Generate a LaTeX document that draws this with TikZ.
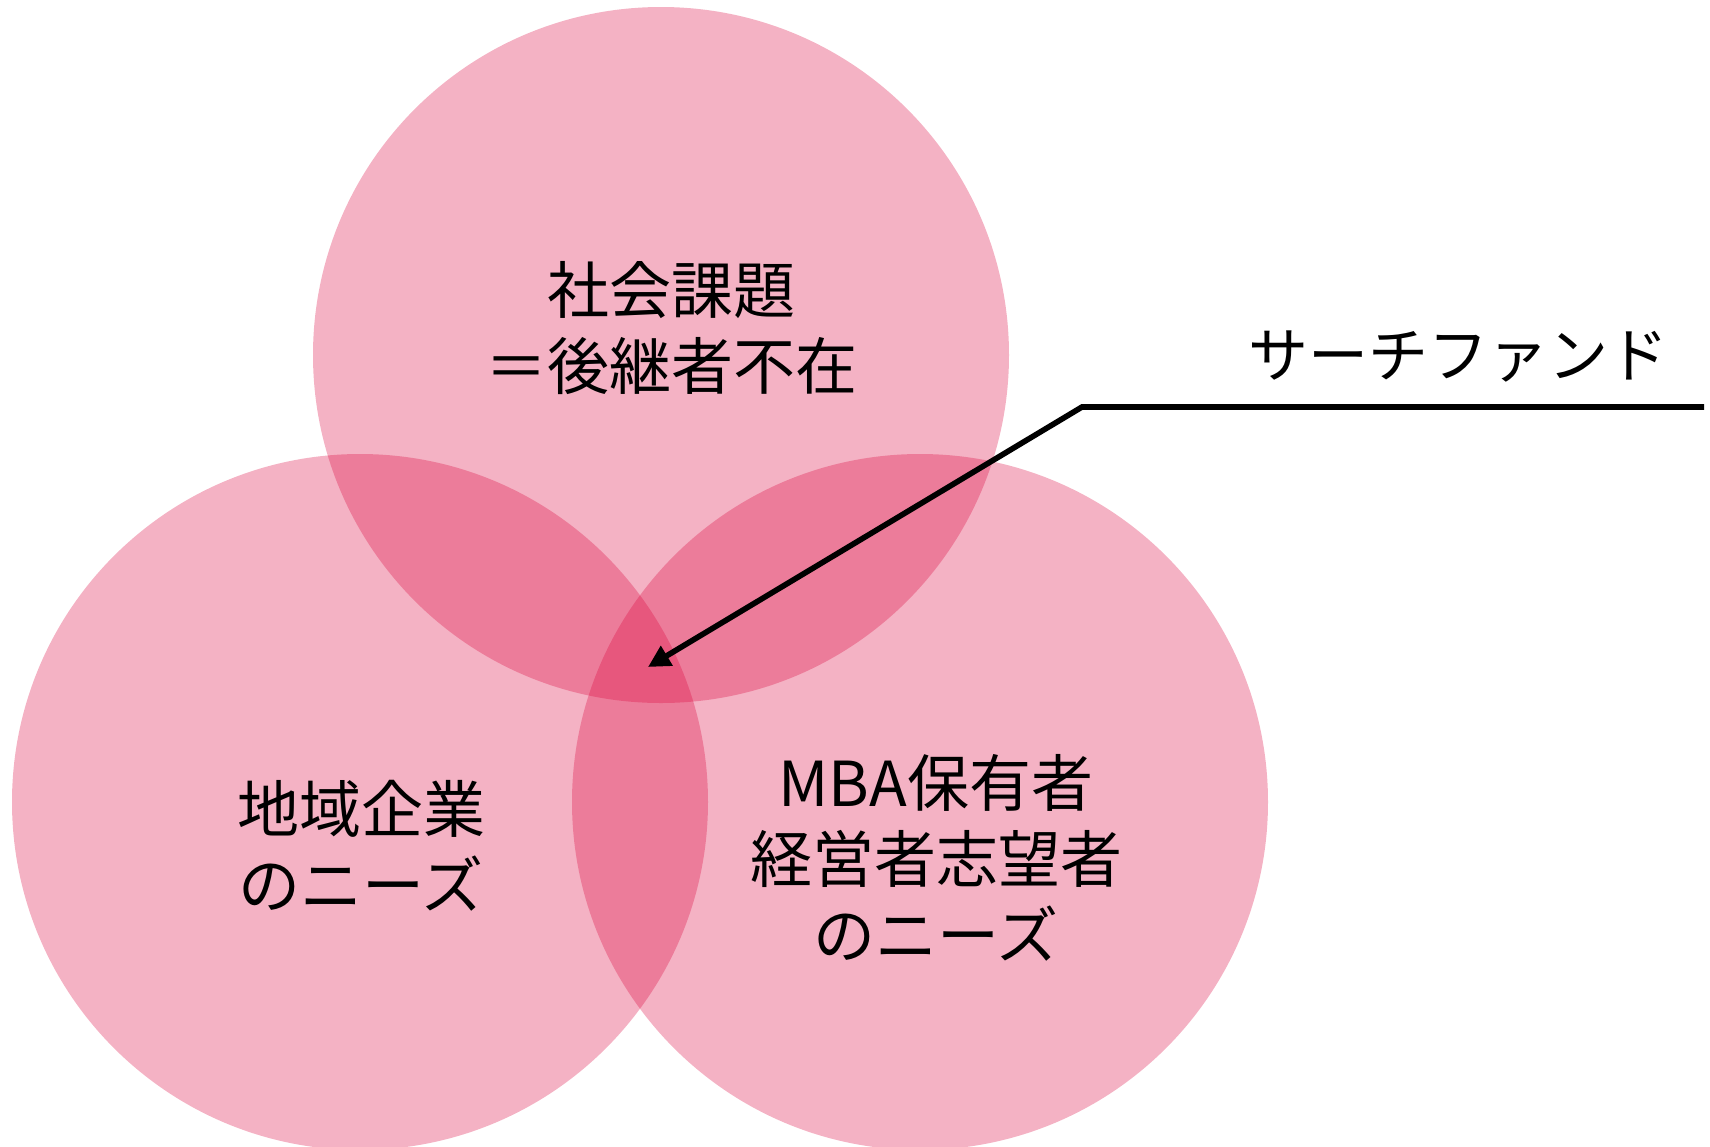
\documentclass[tikz,border=0pt]{standalone}
\usepackage{fontspec}
\newfontfamily\cjk{Noto Sans CJK JP}
\usetikzlibrary{arrows.meta}
\definecolor{venn}{RGB}{218,0,58}
\tikzset{
  vcirc/.style={circle, fill=venn, fill opacity=0.3, draw=none, inner sep=0pt, minimum size=348pt},
  vtext/.style={align=center, font=\cjk\fontsize{31}{38}\selectfont, text=black, inner sep=0pt},
  lbl/.style={font=\cjk\fontsize{30}{34}\selectfont, text=black, inner sep=0pt},
  pointer/.style={line width=2.8pt, draw=black, -{Triangle[length=11pt,width=11pt]}, line join=miter}
}
\begin{document}
\begin{tikzpicture}[x=0.5pt,y=-0.5pt]
\useasboundingbox (0,0) rectangle (1710,1147);
\node[vcirc] (ctop) at (661,355) {};
\node[vcirc] (cleft) at (360,802) {};
\node[vcirc] (cright) at (920,802) {};
\node[vtext] (ttop) at (671,328) {社会課題\\＝後継者不在};
\node[vtext] (tleft) at (361,846) {地域企業\\のニーズ};
\node[vtext] (tright) at (936,858) {MBA保有者\\経営者志望者\\のニーズ};
\node[lbl] (sf) at (1458,357) {サーチファンド};
\coordinate (hend) at (1704,407);
\coordinate (junc) at (1082,407);
\coordinate (tip) at (648,667);
\draw[pointer] (hend) -- (junc) -- (tip);
\end{tikzpicture}
\end{document}
